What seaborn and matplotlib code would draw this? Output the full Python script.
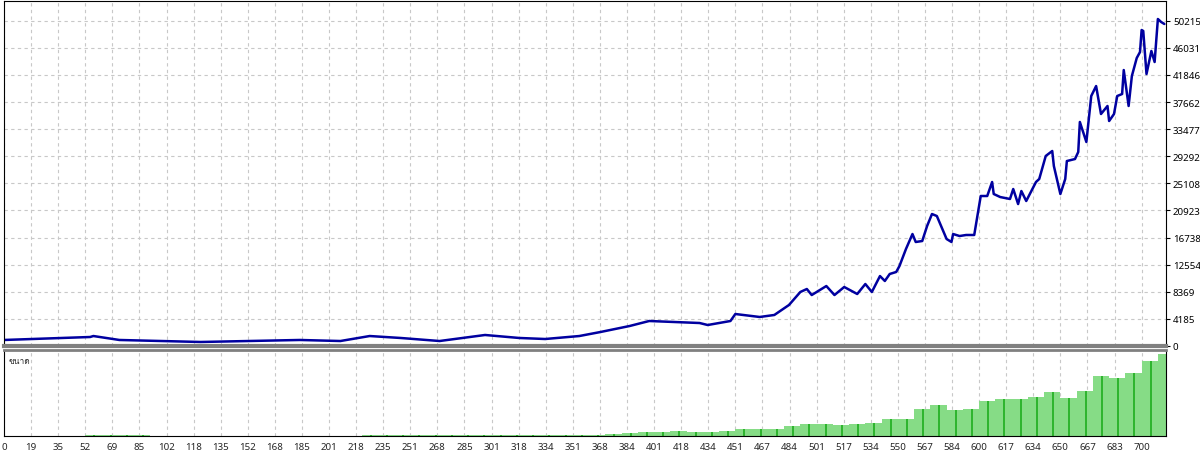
import numpy as np
import pandas as pd
import matplotlib
matplotlib.use("Agg")
import matplotlib.pyplot as plt
from matplotlib import font_manager
from matplotlib.ft2font import FT2Font
import seaborn as sns

# balance curve (trade number -> balance)
trades = [0, 53, 55, 71, 121, 182, 207, 225, 244, 268, 296, 317, 333, 354, 367,
          385, 397, 428, 433, 447, 450, 465, 474, 483, 490, 494, 497, 506, 511,
          517, 525, 530, 534, 539, 542, 545, 549, 551, 555, 559, 561, 565, 568,
          571, 574, 580, 583, 584, 588, 592, 597, 601, 605, 608, 609, 613, 619,
          621, 624, 626, 629, 635, 637, 641, 645, 646, 650, 653, 654, 659, 661,
          662, 666, 669, 672, 675, 679, 680, 683, 685, 688, 689, 692, 694, 697,
          699, 700, 701, 703, 706, 708, 710, 712, 714]
balance = [930, 1390, 1540, 930, 620, 930, 770, 1540, 1240, 770, 1700, 1240, 1080,
           1540, 2160, 3090, 3860, 3550, 3240, 3860, 4940, 4480, 4790, 6330, 8340,
           8800, 7870, 9260, 7870, 9110, 8030, 9570, 8340, 10800, 10040, 11120,
           11430, 12350, 14980, 17290, 16060, 16210, 18530, 20380, 20070, 16520,
           16060, 17290, 16980, 17140, 17140, 23160, 23160, 25320, 23470, 23000,
           22700, 24240, 21920, 23930, 22390, 25320, 25790, 29340, 30110, 27790,
           23470, 25790, 28560, 28870, 29950, 34590, 31500, 38600, 40140, 35820,
           37060, 34740, 35820, 38600, 38910, 42610, 37060, 41690, 44470, 45390,
           48790, 48640, 42000, 45550, 43850, 50490, 50030, 49720]

# lot size per block of 10 trades
lot_start = list(range(0, 720, 10))
lots = [0.5, 0.5, 0.5, 0.5, 0.5, 1, 1, 1, 1, 0.5, 0.5, 0.5, 0.5, 0.5, 0.5, 0.5,
        0.5, 0.5, 0.5, 0.5, 0.5, 0.5, 1, 1, 1, 1, 0.8, 0.8, 0.8, 0.8, 1, 1, 1,
        1, 1, 1.2, 1.2, 2, 3, 4, 4.5, 5, 4.5, 4.5, 5.5, 7, 7, 7.5, 10, 12, 12.5,
        11, 12, 13, 17, 17, 27, 31, 26, 27, 35, 37, 37, 39, 44, 38, 45, 60, 58,
        63, 75, 82]

x_labels = [0, 19, 35, 52, 69, 85, 102, 118, 135, 152, 168, 185, 201, 218, 235,
            251, 268, 285, 301, 318, 334, 351, 368, 384, 401, 418, 434, 451, 467,
            484, 501, 517, 534, 550, 567, 584, 600, 617, 634, 650, 667, 683, 700]
y_labels = [0, 4185, 8369, 12554, 16738, 20923, 25108, 29292, 33477, 37662,
            41846, 46031, 50215]


def thai_family():
    # look for any installed font that has Thai letters
    for f in font_manager.fontManager.ttflist:
        try:
            font = FT2Font(f.fname)
            if font.get_char_index(0x0E02) and font.get_char_index(0x0E14):
                return f.name
        except Exception:
            pass
    return None


sns.set_style("white")
plt.rcParams['font.family'] = ['Noto Sans', 'DejaVu Sans']
label_fams = ['DejaVu Sans']
tf = thai_family()
if tf:
    label_fams = [tf, 'DejaVu Sans']

fig = plt.figure(figsize=(12, 4.52), dpi=100)
W, H = 1200, 452
ax = fig.add_axes([4 / W, 1 - 347 / H, 1162 / W, 345 / H])
ax2 = fig.add_axes([4 / W, 1 - 437 / H, 1162 / W, 86 / H])

grid_kw = dict(color='#c8c8c8', linestyle=(0, (3, 3)), linewidth=0.8)
xt = np.linspace(0, 700, len(x_labels))

df = pd.DataFrame({'trade': trades, 'balance': balance})
sns.lineplot(data=df, x='trade', y='balance', ax=ax, color='#0000a0', linewidth=1.8)
ax.set_xlim(0, 715)
ax.set_ylim(0, 53270)
ax.set_yticks(y_labels)
ax.set_yticklabels([str(v) for v in y_labels])
ax.yaxis.tick_right()
ax.set_xticks(xt)
ax.tick_params(axis='x', bottom=False, labelbottom=False)
ax.tick_params(axis='y', labelsize=7, length=3, pad=2, colors='black')
ax.grid(True, **grid_kw)
ax.set_xlabel('')
ax.set_ylabel('')
for s in ax.spines.values():
    s.set_color('black')
    s.set_linewidth(0.8)
ax.spines['bottom'].set_color('#808080')
ax.spines['bottom'].set_linewidth(3)

ax2.bar(lot_start, lots, width=10, align='edge', color='#86dc86', linewidth=0)
ax2.bar([s + 5 for s in lot_start], lots, width=1.2, align='edge',
        color='#2fb52f', linewidth=0)
ax2.set_xlim(0, 715)
ax2.set_ylim(0, 86)
ax2.set_xticks(xt)
ax2.set_xticklabels([str(v) for v in x_labels])
ax2.set_yticks([])
ax2.tick_params(axis='x', labelsize=7, length=2, pad=2)
ax2.grid(True, axis='x', **grid_kw)
ax2.set_axisbelow(True)
for s in ax2.spines.values():
    s.set_color('black')
    s.set_linewidth(0.8)
ax2.spines['top'].set_color('#808080')
ax2.spines['top'].set_linewidth(2)
ax2.text(0.004, 0.93, 'ขนาด', transform=ax2.transAxes, fontsize=6,
         va='top', ha='left', family=label_fams)

fig.savefig('out.png', dpi=100)
